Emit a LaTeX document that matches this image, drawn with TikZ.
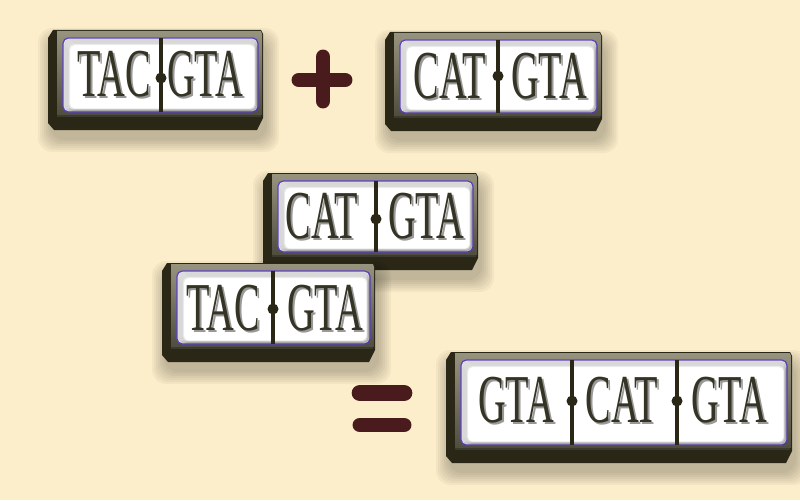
\documentclass[tikz,border=0pt]{standalone}
\usepackage{fontspec}
\newfontfamily\tilefont[FakeStretch=0.56]{Liberation Serif}

\definecolor{paper}{RGB}{252,238,202}
\definecolor{tilebody}{RGB}{42,39,22}
\definecolor{tilerim}{RGB}{132,128,104}
\definecolor{facerim}{RGB}{98,66,205}
\definecolor{ink}{RGB}{52,51,36}
\definecolor{sign}{RGB}{74,27,29}

\tikzset{
  letters/.style={font=\tilefont\fontsize{39}{39}\selectfont, text=ink, inner sep=0pt},
  divider/.style={tilebody, line width=1.8pt},
  signbar/.style={sign, line cap=round,
    preaction={draw=black, opacity=0.22, transform canvas={xshift=1.5pt, yshift=-2.5pt}}}
}

% tile body: left, top, right, bottom (pixels, y down)
\newcommand\tile[4]{%
  \foreach \k in {1,...,7}
    \fill[black, opacity=0.035, rounded corners=8pt]
      ({#1-2*\k+4},{#2-2*\k+12}) rectangle ({#3+2*\k+2},{#4+2*\k+8});
  \fill[tilebody] ({#1+5},{#2}) -- ({#3-2},{#2}) -- ({#3},{#2+4})
    -- ({#3},{#4-12}) -- ({#3-6},{#4}) -- ({#1+6},{#4}) -- ({#1},{#4-7})
    -- ({#1},{#2+8}) -- cycle;
  \fill[top color=tilerim!85!white, bottom color=tilerim!60!black]
    ({#1+9},{#2+1}) -- ({#3-2},{#2+1}) -- ({#3-1},{#2+4})
    -- ({#3-1},{#4-15}) -- ({#1+9},{#4-15}) -- cycle;
  \fill[tilerim!45!black] ({#1+9},{#4-15}) rectangle ({#3-2},{#4-13});
  \draw[facerim, fill=white, rounded corners=3pt, line width=0.7pt]
    ({#1+15},{#2+8}) rectangle ({#3-5},{#4-18});
  \foreach \k in {1,...,6}
    \draw[black, opacity=0.07, line width=1.4pt, rounded corners=3pt]
      ({#1+15+\k},{#2+8+\k}) rectangle ({#3-5-0.4*\k},{#4-18-0.4*\k});
}

% divider with its pin: x, top, bottom, y of pin
\newcommand\tilesplit[4]{%
  \draw[divider] (#1,#2) -- (#1,#3);
  \fill[tilebody] (#1,#4) circle (5.5);
}

% word with its own soft shadow: name, x, y, text
\newcommand\word[4]{%
  \node[letters] (#1) at (#2,#3)
    {\makebox[0pt][l]{\kern1.2pt\raisebox{-1.2pt}{\textcolor{black!40}{#4}}}#4};
}

\begin{document}
\begin{tikzpicture}[x=0.02cm, y=-0.02cm]
  \fill[paper] (0,0) rectangle (800,500);
  \useasboundingbox (0,0) rectangle (800,500);

  % first sum: TAC-GTA + CAT-GTA
  \tile{48}{30}{263}{130}
  \tilesplit{161}{38}{112}{78}
  \word{tacA}{114}{75}{TAC}
  \word{gtaA}{205}{75}{GTA}

  \draw[signbar, line width=8.5pt] (299,80) -- (345,80);
  \draw[signbar, line width=8.5pt] (323,57) -- (323,101);

  \tile{385}{32}{602}{131}
  \tilesplit{498}{40}{113}{76}
  \word{catB}{450}{77}{CAT}
  \word{gtaB}{549}{77}{GTA}

  % the two tiles joined on GTA
  \tile{263}{173}{478}{270}
  \tilesplit{376}{181}{252}{219}
  \word{catC}{322}{217}{CAT}
  \word{gtaC}{426}{217}{GTA}

  \tile{162}{263}{375}{362}
  \tilesplit{273}{271}{344}{309}
  \word{tacD}{223}{309}{TAC}
  \word{gtaD}{325}{309}{GTA}

  % result
  \draw[signbar, line width=9.5pt] (360,393) -- (404,393);
  \draw[signbar, line width=8.5pt] (360,425) -- (404,425);

  \tile{446}{352}{792}{463}
  \tilesplit{572}{360}{445}{401}
  \tilesplit{677}{360}{445}{401}
  \word{gtaE}{516}{401}{GTA}
  \word{catE}{622}{401}{CAT}
  \word{gtaF}{729}{401}{GTA}
\end{tikzpicture}
\end{document}
